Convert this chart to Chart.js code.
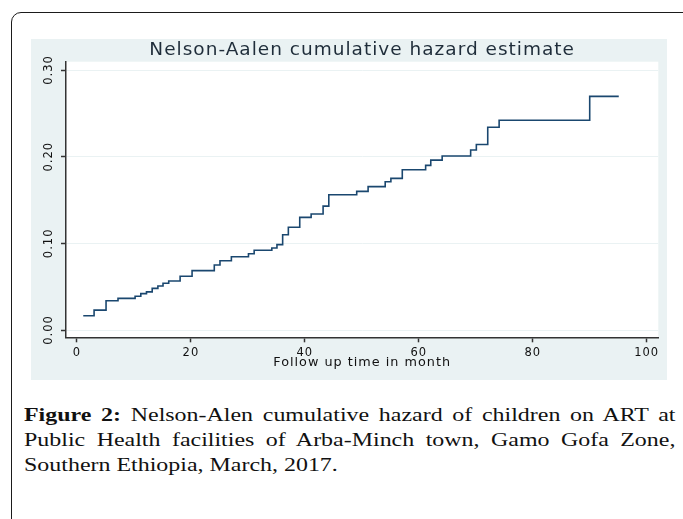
<!DOCTYPE html>
<html>
<head>
<meta charset="utf-8">
<script src="https://cdn.jsdelivr.net/npm/chart.js@4.4.1/dist/chart.umd.min.js"></script>
<style>
  body { margin: 0; background: #fff; width: 683px; height: 519px; overflow: hidden; position: relative; }
  .card { position: absolute; left: 11px; top: 12px; width: 720px; height: 560px; border: 1.5px solid #1b1b1b; border-radius: 10px; box-sizing: border-box; }
  .graph { position: absolute; left: 31px; top: 39px; width: 636px; height: 341px; background: #eaf2f3; }
  .caption { position: absolute; left: 24px; top: 401.6px; width: 517px; font-family: "Liberation Serif", serif; font-size: 19px; line-height: 25.3px; text-align: justify; color: #111; transform: scaleX(1.26); transform-origin: 0 0; }
</style>
</head>
<body>
<div class="card"></div>
<div class="graph"><canvas id="grafico" width="636" height="341"></canvas></div>
<div class="caption"><b>Figure 2:</b> Nelson-Alen cumulative hazard of children on ART at Public Health facilities of Arba-Minch town, Gamo Gofa Zone, Southern Ethiopia, March, 2017.</div>
<script>
const tempos = [1.1, 3.0, 5.1, 7.2, 10.2, 11.2, 12.2, 13.2, 14.2, 15.1, 16.1, 18.1, 20.2,
  24.1, 25.1, 27.1, 30.1, 31.1, 34.2, 35.1, 36.1, 37.1, 39.1, 41.1, 43.2, 44.2,
  49.1, 51.1, 54.1, 55.1, 57.1, 61.2, 62.1, 64.1, 69.1, 70.1, 72.1, 74.1, 90.0, 95.1];
const risco = [0.0165, 0.023, 0.0338, 0.0365, 0.039, 0.042, 0.044, 0.048, 0.0508, 0.054, 0.0565, 0.062, 0.0685,
  0.075, 0.080, 0.0845, 0.088, 0.092, 0.0946, 0.0985, 0.110, 0.1185, 0.130, 0.1338, 0.143, 0.156,
  0.160, 0.1654, 0.171, 0.175, 0.185, 0.190, 0.196, 0.2008, 0.2077, 0.214, 0.234, 0.242, 0.2696, 0.2696];
const ticksX = [0, 20, 40, 60, 80, 100];
const ticksY = [0, 0.1, 0.2, 0.3];

const pontos = tempos.map((t, i) => ({ x: t, y: risco[i] }));

const fundo = {
  id: "fundo",
  beforeLayout(chart) {
    chart.ctx.letterSpacing = "1px";
  },
  beforeDraw(chart) {
    const { ctx, chartArea: a } = chart;
    ctx.letterSpacing = "1px";
    ctx.save();
    ctx.fillStyle = "#fff";
    ctx.fillRect(a.left, a.top, a.right - a.left, a.bottom - a.top);
    ctx.restore();
  },
};

const fonte = { family: "DejaVu Sans", size: 11.5 };

new Chart(document.getElementById("grafico"), {
  type: "line",
  data: {
    datasets: [
      {
        label: "Nelson-Aalen",
        data: pontos,
        stepped: true,
        borderColor: "#1a476f",
        borderWidth: 1.6,
        pointRadius: 0,
        fill: false,
      },
    ],
  },
  options: {
    responsive: false,
    animation: false,
    layout: { padding: { left: 0, right: 8.7, top: 0, bottom: 0 } },
    plugins: {
      legend: { display: false },
      tooltip: { enabled: false },
      title: {
        display: true,
        text: "Nelson-Aalen cumulative hazard estimate",
        fullSize: false,
        color: "#1f2d3a",
        font: { family: "DejaVu Sans", size: 18.5, weight: "normal", lineHeight: 1.2 },
        padding: { top: 0, bottom: 0.5 },
      },
    },
    scales: {
      x: {
        type: "linear",
        min: -1.93,
        max: 102.04,
        afterBuildTicks: (s) => { s.ticks = ticksX.map((v) => ({ value: v })); },
        afterFit: (s) => { s.height = 42.7; s.paddingLeft = 0; s.paddingRight = 0; },
        grid: { drawOnChartArea: false, tickLength: 5, tickColor: "#333", tickWidth: 1.5 },
        border: { color: "#333", width: 1.5 },
        ticks: { padding: 3.7, color: "#111", font: fonte, maxRotation: 0, autoSkip: false },
        title: {
          display: true,
          text: "Follow up time in month",
          color: "#111",
          font: { family: "DejaVu Sans", size: 12.8, lineHeight: 1.2 },
          padding: { top: 0, bottom: 10 },
        },
      },
      y: {
        min: -0.0084,
        max: 0.3096,
        afterBuildTicks: (s) => { s.ticks = ticksY.map((v) => ({ value: v })); },
        afterFit: (s) => { s.width = 35; s.paddingTop = 0; s.paddingBottom = 0; },
        grid: { color: "#eaf2f3", lineWidth: 1, tickLength: 5, tickColor: "#333", tickWidth: 1.5 },
        border: { color: "#333", width: 1.5 },
        ticks: {
          padding: -3,
          crossAlign: "center",
          minRotation: 90,
          maxRotation: 90,
          color: "#111",
          font: fonte,
          callback: (v) => v.toFixed(2),
        },
      },
    },
  },
  plugins: [fundo],
});
</script>
</body>
</html>
